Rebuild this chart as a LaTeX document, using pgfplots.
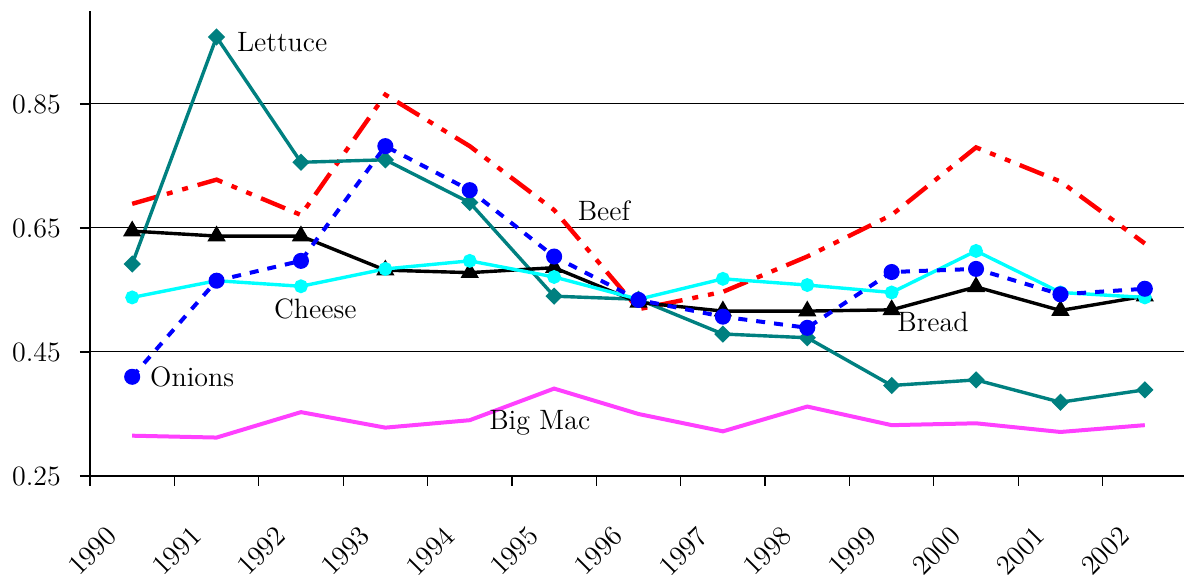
\documentclass[border=0pt]{standalone}
\usepackage{pgfplots}
\pgfplotsset{compat=1.18}
\definecolor{teal}{RGB}{0,128,128}
\definecolor{bigmac}{RGB}{255,64,255}
\definecolor{cyanx}{RGB}{0,255,255}
\pgfplotstableread{
x beef lettuce onions bread cheese bigmac
0  0.689 0.592 0.410 0.645 0.538 0.315
1  0.728 0.958 0.565 0.637 0.565 0.312
2  0.671 0.756 0.597 0.637 0.556 0.353
3  0.865 0.760 0.782 0.582 0.584 0.328
4  0.782 0.691 0.711 0.578 0.597 0.340
5  0.679 0.540 0.604 0.586 0.571 0.391
6  0.519 0.535 0.534 0.530 0.535 0.350
7  0.547 0.479 0.507 0.516 0.568 0.322
8  0.604 0.473 0.489 0.516 0.558 0.362
9  0.671 0.396 0.579 0.518 0.546 0.332
10 0.780 0.405 0.584 0.555 0.613 0.335
11 0.725 0.369 0.543 0.517 0.546 0.321
12 0.625 0.389 0.552 0.540 0.538 0.332
}\data
\begin{document}
\begin{tikzpicture}
\begin{axis}[
  at={(0,0)}, anchor=south west,
  scale only axis,
  width=548.5pt, height=232.5pt,
  xmin=-0.5, xmax=12.5, ymin=0.25, ymax=1.0,
  axis x line*=bottom, axis y line*=left,
  axis line style={line width=0.6pt, -},
  tick align=outside,
  major tick length=5pt, minor tick length=5pt,
  tick style={black, line width=0.6pt},
  tick label style={font=\fontsize{14}{17}\selectfont},
  xtick={0,1,2,3,4,5,6,7,8,9,10,11,12},
  xticklabels={1990,1991,1992,1993,1994,1995,1996,1997,1998,1999,2000,2001,2002},
  minor xtick={-0.5,0.5,1.5,2.5,3.5,4.5,5.5,6.5,7.5,8.5,9.5,10.5,11.5,12.5},
  major x tick style={draw=none},
  xticklabel style={xshift=-13.5pt, yshift=-14.5pt, rotate=45, anchor=north east},
  ytick={0.25,0.45,0.65,0.85},
  yticklabels={0.25,0.45,0.65,0.85},
  ymajorgrids, grid style={black, line width=0.5pt},
  yticklabel style={xshift=-6pt},
  clip=false,
]
\addplot[red, line width=2.2pt, dash pattern=on 13pt off 5pt on 3pt off 5pt on 3pt off 5pt] table[x=x,y=beef]{\data};
\addplot[teal, line width=1.7pt, mark=square*, mark size=2.2pt, mark options={rotate=45, solid}] table[x=x,y=lettuce]{\data};
\addplot[bigmac, line width=2pt] table[x=x,y=bigmac]{\data};
\addplot[black, line width=1.7pt, mark=triangle*, mark size=3.6pt] table[x=x,y=bread]{\data};
\addplot[cyanx, line width=1.7pt, mark=*, mark size=2.6pt] table[x=x,y=cheese]{\data};
\addplot[blue, line width=2pt, dash pattern=on 4.5pt off 4.5pt, mark=*, mark size=3pt, mark options={solid}] table[x=x,y=onions]{\data};
\node[font=\fontsize{14}{17}\selectfont] at (axis cs:1.777,0.95) {Lettuce};
\node[font=\fontsize{14}{17}\selectfont] at (axis cs:5.59,0.677) {Beef};
\node[font=\fontsize{14}{17}\selectfont] at (axis cs:2.17,0.519) {Cheese};
\node[font=\fontsize{14}{17}\selectfont] at (axis cs:0.711,0.41) {Onions};
\node[font=\fontsize{14}{17}\selectfont] at (axis cs:4.83,0.335) {Big Mac};
\node[font=\fontsize{14}{17}\selectfont] at (axis cs:9.49,0.498) {Bread};
\end{axis}
\pgfresetboundingbox
\path (-45pt,-53.5pt) rectangle (547pt,238pt);
\end{tikzpicture}
\end{document}
